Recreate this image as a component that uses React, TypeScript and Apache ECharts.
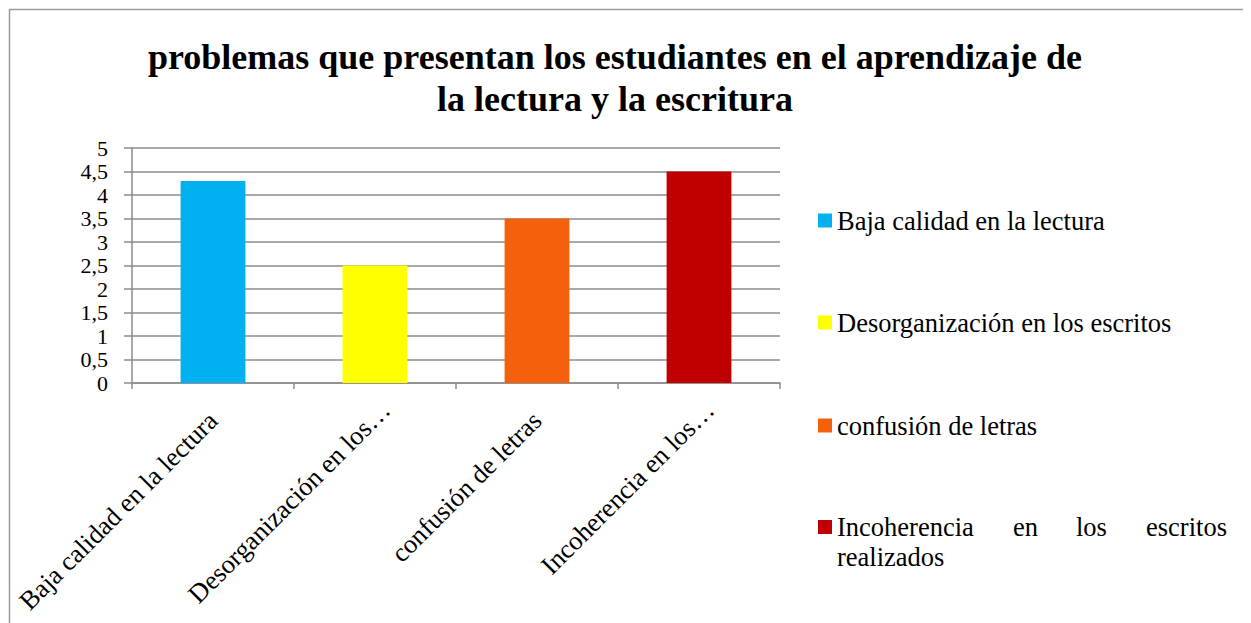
import React, { useEffect, useRef } from "react";
import * as echarts from "echarts";

const titleLines = [
  "problemas que presentan los estudiantes en el aprendizaje de",
  "la lectura y la escritura",
];
const categories = [
  "Baja calidad en la lectura",
  "Desorganización en los escritos",
  "confusión de letras",
  "Incoherencia en los escritos realizados",
];
const xTickLabels = [
  "Baja calidad en la lectura",
  "Desorganización en los…",
  "confusión de letras",
  "Incoherencia en los…",
];
const values = [4.3, 2.5, 3.5, 4.5];
const colors = ["#00B0F0", "#FFFF00", "#F4600C", "#C00000"];
const legendTops = [194, 296, 399, 469];

const FONT = "Liberation Serif";
const FS = 26.5;

export default function App() {
  const ref = useRef<HTMLDivElement>(null);
  useEffect(() => {
    if (!ref.current) return;
    const chart = echarts.init(ref.current, null, { renderer: "svg" });
    const series = categories.map((name, i) => ({
      name,
      type: "bar",
      stack: "all",
      barWidth: "40%",
      itemStyle: { color: colors[i] },
      data: categories.map((_, j) => (j === i ? values[i] : "-")),
    }));
    const rs = { fontFamily: FONT, fontSize: FS, lineHeight: 30, color: "#000" };
    const legends = categories.map((name, i) => {
      const isLast = i === categories.length - 1;
      return {
        orient: "vertical",
        left: 805,
        top: legendTops[i],
        icon: "rect",
        itemWidth: 14,
        itemHeight: 14,
        data: [name],
        selectedMode: false,
        formatter: isLast
          ? () => "{a|Incoherencia}{b|en}{c|los}{d|escritos}\n{a|realizados}"
          : undefined,
        textStyle: {
          color: "#000",
          fontFamily: FONT,
          fontSize: FS,
          lineHeight: isLast ? 30 : 25,
          padding: isLast ? [30, 0, 0, 0] : 0,
          rich: isLast
            ? {
                a: { ...rs, width: 176 },
                b: { ...rs, width: 63 },
                c: { ...rs, width: 70 },
                d: { ...rs },
              }
            : undefined,
        },
      };
    });
    const xData = categories.map((c, i) => ({
      value: c,
      textStyle: xTickLabels[i] !== c ? { padding: [0, -15, 0, 0] } : {},
    }));
    chart.setOption({
      animation: false,
      backgroundColor: "#fff",
      textStyle: { fontFamily: FONT },
      graphic: [
        {
          type: "rect",
          shape: { x: 1.5, y: 1.5, width: 1236, height: 700 },
          style: { fill: "none", stroke: "#9a9a9a", lineWidth: 1.5 },
          silent: true,
        },
        {
          type: "text",
          x: 607,
          y: 28,
          style: {
            text: titleLines.join("\n"),
            fontFamily: FONT,
            fontSize: 36,
            fontWeight: "bold",
            fill: "#000",
            align: "center",
            verticalAlign: "top",
            lineHeight: 42,
          },
        },
      ],
      legend: legends,
      grid: { left: 124, right: 471, top: 140, bottom: 240, containLabel: false },
      xAxis: {
        type: "category",
        data: xData,
        axisLine: { lineStyle: { color: "#8c8c8c", width: 1.5 } },
        axisTick: { show: true, length: 6, lineStyle: { color: "#8c8c8c", width: 1.5 } },
        axisLabel: {
          rotate: 45,
          margin: 33,
          color: "#000",
          fontFamily: FONT,
          fontSize: FS,
          interval: 0,
          formatter: (_v: string, idx: number) => xTickLabels[idx],
        },
      },
      yAxis: {
        type: "value",
        min: 0,
        max: 5,
        interval: 0.5,
        axisLine: { show: true, lineStyle: { color: "#8c8c8c", width: 1.5 } },
        axisTick: { show: true, length: 8, lineStyle: { color: "#8c8c8c", width: 1.5 } },
        splitLine: { lineStyle: { color: "#8c8c8c", width: 1.5 } },
        axisLabel: {
          margin: 24,
          color: "#000",
          fontFamily: FONT,
          fontSize: 22,
          showMinLabel: true,
          showMaxLabel: true,
          hideOverlap: false,
          formatter: (v: number) => String(v).replace(".", ","),
        },
      },
      series,
    });
    return () => chart.dispose();
  }, []);
  return <div ref={ref} style={{ width: 1243, height: 615 }} />;
}
